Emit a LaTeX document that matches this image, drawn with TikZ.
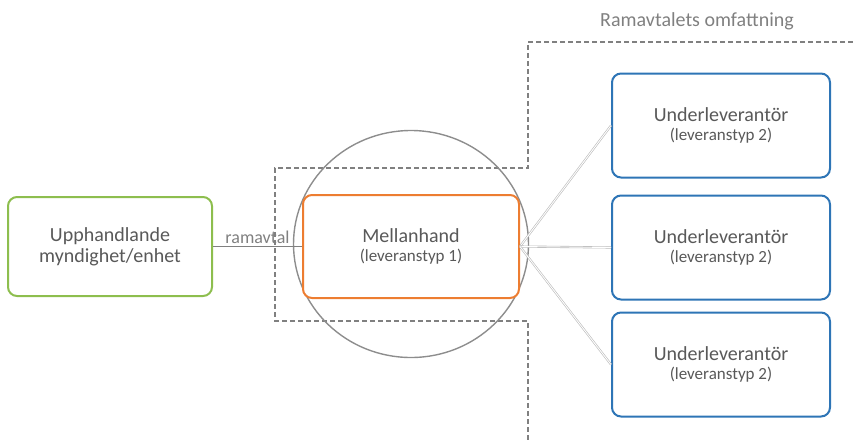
\documentclass[tikz,border=0pt]{standalone}
\usepackage{fontspec}
\setmainfont{Carlito}
\usetikzlibrary{shapes.geometric}
\definecolor{txtgray}{HTML}{595959}
\definecolor{lblgray}{HTML}{808080}
\definecolor{boxgreen}{HTML}{8DBE4E}
\definecolor{boxorange}{HTML}{ED7D31}
\definecolor{boxblue}{HTML}{2E75B6}
\tikzset{
	box/.style={draw, line width=2pt, rounded corners=9pt, fill=white, align=center,
		text=txtgray, font=\fontsize{20}{20}\selectfont},
	gbox/.style={box, draw=boxgreen, minimum width=204pt, minimum height=99pt},
	obox/.style={box, draw=boxorange, minimum width=216pt, minimum height=103pt},
	bbox/.style={box, draw=boxblue, minimum width=218pt, minimum height=104pt},
	ring/.style={ellipse, draw=lblgray!90, line width=1.4pt, minimum width=235pt, minimum height=227pt},
	scopeline/.style={draw=lblgray, line width=2.8pt, dash pattern=on 5pt off 3pt},
	conn/.style={draw=lblgray, line width=1.3pt},
	subconn/.style={draw=gray!55, line width=0.6pt, double=white, double distance=0.9pt}
}
\newcommand{\subtxt}[1]{{\fontsize{17}{19}\selectfont #1}}
\begin{document}
\begin{tikzpicture}[x=1pt,y=-1pt]
		\useasboundingbox (0,0) rectangle (853,440);

		% ramavtalets omfattning
		\draw[scopeline] (853,42) -- (528,42) -- (528,168) -- (275,168) -- (275,321) -- (528,321) -- (528,440);
		\node[text=lblgray, font=\fontsize{20}{20}\selectfont] (omf) at (697,21) {Ramavtalets omfattning};

		\node[ring] (ring) at (411,244) {};

		\node[gbox] (upph) at (110,246.5) {Upphandlande\\[1pt]myndighet/enhet};
		\node[obox] (mellan) at (411,246.5) {Mellanhand\\[-1pt]\subtxt{(leveranstyp 1)}};

		\node[bbox] (ul1) at (721,125.5) {Underleverantör\\[-1pt]\subtxt{(leveranstyp 2)}};
		\node[bbox] (ul2) at (721,247.5) {Underleverantör\\[-1pt]\subtxt{(leveranstyp 2)}};
		\node[bbox] (ul3) at (721,364.5) {Underleverantör\\[-1pt]\subtxt{(leveranstyp 2)}};

		\draw[conn] (upph) -- (mellan) node[midway, above, inner sep=2pt, text=lblgray,
			font=\fontsize{18}{18}\selectfont] (avtal) {ramavtal};

		\draw[subconn] (mellan.east) -- (ul1.west);
		\draw[subconn] (mellan.east) -- (ul2.west);
		\draw[subconn] (mellan.east) -- (ul3.west);
	\end{tikzpicture}
\end{document}
